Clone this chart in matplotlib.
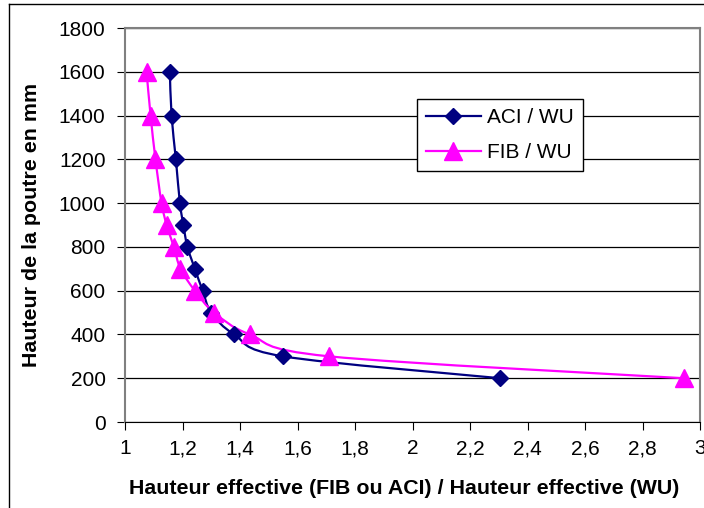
import numpy as np
from matplotlib import pyplot as plt
from matplotlib.path import Path
from matplotlib.patches import PathPatch
from matplotlib.lines import Line2D

plt.rcParams['font.family'] = ['Liberation Sans', 'DejaVu Sans']

# beam height (mm) and ratio of effective heights
heights = [1600, 1400, 1200, 1000, 900, 800, 700, 600, 500, 400, 300, 200]
aci_wu = [1.156, 1.162, 1.177, 1.191, 1.203, 1.217, 1.243, 1.27, 1.30, 1.38, 1.55, 2.305]
fib_wu = [1.075, 1.089, 1.106, 1.127, 1.145, 1.17, 1.193, 1.243, 1.31, 1.434, 1.71, 2.944]

x_ticks = [1, 1.2, 1.4, 1.6, 1.8, 2, 2.2, 2.4, 2.6, 2.8, 3]
x_ticklabels = ['1', '1,2', '1,4', '1,6', '1,8', '2', '2,2', '2,4', '2,6', '2,8', '3']
y_ticks = list(range(0, 1801, 200))

navy = '#000080'
magenta = '#FF00FF'


def smooth_path(xs, ys):
    # excel style smoothed line: bezier segments through every point
    pts = np.column_stack([xs, ys]).astype(float)
    verts = [pts[0]]
    codes = [Path.MOVETO]
    n = len(pts)
    for i in range(n - 1):
        p0 = pts[i - 1] if i > 0 else pts[i]
        p1 = pts[i]
        p2 = pts[i + 1]
        p3 = pts[i + 2] if i + 2 < n else pts[i + 1]
        c1 = p1 + (p2 - p0) / 6
        c2 = p2 - (p3 - p1) / 6
        verts += [c1, c2, p2]
        codes += [Path.CURVE4] * 3
    return Path(verts, codes)


fig = plt.figure(figsize=(7.04, 5.08), dpi=100)
ax = fig.add_axes([125 / 704, 1 - 422 / 508, 575 / 704, 394 / 508])

for xs, color in [(aci_wu, navy), (fib_wu, magenta)]:
    ax.add_patch(PathPatch(smooth_path(xs, heights), facecolor='none',
                           edgecolor=color, lw=1.6, zorder=3))
ax.plot(aci_wu, heights, ls='none', marker='D', ms=8.5, color=navy, zorder=4)
ax.plot(fib_wu, heights, ls='none', marker='^', ms=12.5, color=magenta, zorder=5)

ax.set_xlim(1, 3)
ax.set_ylim(0, 1800)
ax.set_xticks(x_ticks)
ax.set_xticklabels(x_ticklabels)
ax.set_yticks(y_ticks)
ax.yaxis.grid(True, color='black', lw=0.9)
ax.set_axisbelow(True)

for side in ['top', 'right', 'left']:
    ax.spines[side].set_color('#808080')
    ax.spines[side].set_linewidth(1.5)
ax.spines['bottom'].set_color('black')
ax.tick_params(axis='y', direction='out', length=6, pad=8, labelsize=15)
ax.tick_params(axis='x', direction='out', length=6, pad=6.5, labelsize=15)

ax.set_xlabel('Hauteur effective (FIB ou ACI) / Hauteur effective (WU)',
              fontsize=15.4, fontweight='bold', labelpad=15)
ax.xaxis.label.set_x(0.486)
ax.set_ylabel('Hauteur de la poutre en mm', fontsize=15.4, fontweight='bold',
              labelpad=13)

handles = [
    Line2D([], [], color=navy, lw=1.6, marker='D', ms=8.5),
    Line2D([], [], color=magenta, lw=1.6, marker='^', ms=12.5),
]
leg = ax.legend(handles, ['ACI / WU', 'FIB / WU'], loc='upper left',
                bbox_to_anchor=((417 - 125) / 575, (422 - 99) / 394),
                fontsize=15, frameon=True, fancybox=False, edgecolor='black',
                framealpha=1, handlelength=2.6, handletextpad=0.3,
                borderpad=0.45, labelspacing=0.75, borderaxespad=0)
leg.get_frame().set_linewidth(1)

# outer chart border (only left and top visible)
fig.add_artist(Line2D([9 / 704, 9 / 704], [0, 1 - 4 / 508], color='black', lw=1))
fig.add_artist(Line2D([9 / 704, 1], [1 - 4 / 508, 1 - 4 / 508], color='black', lw=1))

fig.savefig('out.png', dpi=100)
